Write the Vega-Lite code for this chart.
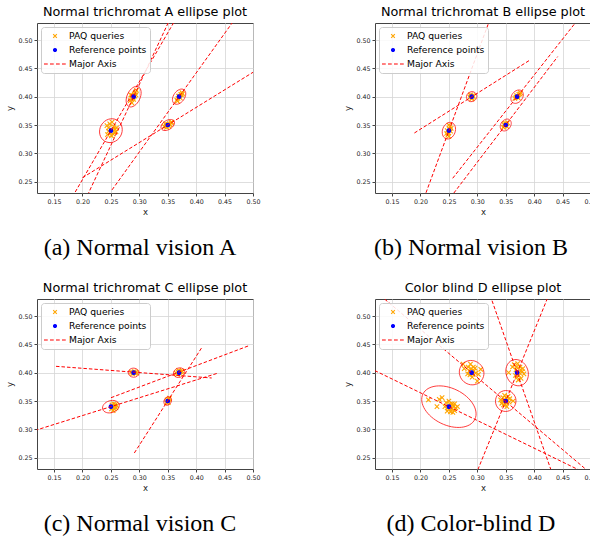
{
  "$schema": "https://vega.github.io/schema/vega-lite/v6.json",
  "background": "white",
  "padding": {"left": 5, "top": 5, "right": 5, "bottom": 5},
  "config": {
    "font": "DejaVu Sans",
    "view": {"stroke": "#444", "strokeWidth": 1},
    "axis": {"labelFont": "DejaVu Sans", "labelFontSize": 6.3, "labelColor": "#222", "titleFont": "DejaVu Sans", "titleFontSize": 8.5, "titleFontWeight": "normal", "titleColor": "#222", "tickColor": "#444", "tickSize": 3, "gridColor": "#d6d6d6", "gridWidth": 0.8, "domain": false, "labelPadding": 2, "titlePadding": 3, "labelFlush": false},
    "legend": {"orient": "top-left", "offset": 4, "padding": 3, "labelFont": "DejaVu Sans", "labelFontSize": 9.2, "labelColor": "black", "symbolSize": 100, "rowPadding": 2, "strokeColor": "#cccccc", "fillColor": "rgba(255,255,255,0.85)", "cornerRadius": 3, "symbolStrokeWidth": 1.1, "labelOffset": 8, "symbolOffset": 5},
    "title": {"font": "DejaVu Sans", "fontSize": 12.8, "fontWeight": "normal", "color": "black", "offset": 4}
  },
  "datasets": {
    "axes": [
      {"panel": "A", "id": "A1", "x": 0.1046, "y": 0.0891}, {"panel": "A", "id": "A1", "x": 0.3954, "y": 0.5909},
      {"panel": "A", "id": "A2", "x": 0.1801, "y": 0.1644}, {"panel": "A", "id": "A2", "x": 0.3999, "y": 0.6356},
      {"panel": "A", "id": "A3", "x": 0.2, "y": 0.257}, {"panel": "A", "id": "A3", "x": 0.5, "y": 0.443},
      {"panel": "A", "id": "A4", "x": 0.252, "y": 0.2355}, {"panel": "A", "id": "A4", "x": 0.488, "y": 0.5645},
      {"panel": "B", "id": "B1", "x": 0.1796, "y": 0.1485}, {"panel": "B", "id": "B1", "x": 0.3204, "y": 0.5315},
      {"panel": "B", "id": "B2", "x": 0.1893, "y": 0.3359}, {"panel": "B", "id": "B2", "x": 0.391, "y": 0.4636},
      {"panel": "B", "id": "B3", "x": 0.2567, "y": 0.256}, {"panel": "B", "id": "B3", "x": 0.4833, "y": 0.544},
      {"panel": "B", "id": "B4", "x": 0.2586, "y": 0.2298}, {"panel": "B", "id": "B4", "x": 0.4414, "y": 0.4707},
      {"panel": "C", "id": "C1", "x": 0.1534, "y": 0.4112}, {"panel": "C", "id": "C1", "x": 0.4273, "y": 0.3906},
      {"panel": "C", "id": "C2", "x": 0.061, "y": 0.2806}, {"panel": "C", "id": "C2", "x": 0.439, "y": 0.3994},
      {"panel": "C", "id": "C3", "x": 0.2502, "y": 0.3558}, {"panel": "C", "id": "C3", "x": 0.4947, "y": 0.4483},
      {"panel": "C", "id": "C4", "x": 0.2912, "y": 0.2582}, {"panel": "C", "id": "C4", "x": 0.4097, "y": 0.444},
      {"panel": "D", "id": "D1", "x": 0.05, "y": 0.4377}, {"panel": "D", "id": "D1", "x": 0.55, "y": 0.1935},
      {"panel": "D", "id": "D2", "x": 0.1, "y": 0.5612}, {"panel": "D", "id": "D2", "x": 0.52, "y": 0.2048},
      {"panel": "D", "id": "D3", "x": 0.31, "y": 0.5728}, {"panel": "D", "id": "D3", "x": 0.44, "y": 0.1984},
      {"panel": "D", "id": "D4", "x": 0.29, "y": 0.2018}, {"panel": "D", "id": "D4", "x": 0.44, "y": 0.5723}
    ],
    "ellipses": [
      {"panel": "A", "id": "A1", "x": 0.25, "y": 0.34, "a": 0.0215, "b": 0.0195, "angle": 60},
      {"panel": "A", "id": "A2", "x": 0.29, "y": 0.40, "a": 0.0193, "b": 0.0115, "angle": 65},
      {"panel": "A", "id": "A3", "x": 0.35, "y": 0.35, "a": 0.0131, "b": 0.0081, "angle": 31.8},
      {"panel": "A", "id": "A4", "x": 0.37, "y": 0.40, "a": 0.015, "b": 0.0097, "angle": 54.6},
      {"panel": "B", "id": "B1", "x": 0.25, "y": 0.34, "a": 0.0151, "b": 0.0112, "angle": 69.8},
      {"panel": "B", "id": "B2", "x": 0.29, "y": 0.40, "a": 0.0094, "b": 0.0086, "angle": 32.3},
      {"panel": "B", "id": "B3", "x": 0.37, "y": 0.40, "a": 0.013, "b": 0.0095, "angle": 52},
      {"panel": "B", "id": "B4", "x": 0.35, "y": 0.35, "a": 0.0115, "b": 0.0085, "angle": 52.7},
      {"panel": "C", "id": "C1", "x": 0.29, "y": 0.40, "a": 0.0096, "b": 0.0079, "angle": -4.3},
      {"panel": "C", "id": "C2", "x": 0.25, "y": 0.34, "a": 0.0151, "b": 0.0107, "angle": 17.1},
      {"panel": "C", "id": "C3", "x": 0.37, "y": 0.40, "a": 0.0102, "b": 0.0085, "angle": 20.7},
      {"panel": "C", "id": "C4", "x": 0.35, "y": 0.35, "a": 0.008, "b": 0.0062, "angle": 57.5},
      {"panel": "D", "id": "D1", "x": 0.25, "y": 0.34, "a": 0.0509, "b": 0.0323, "angle": -26},
      {"panel": "D", "id": "D2", "x": 0.29, "y": 0.40, "a": 0.0222, "b": 0.021, "angle": -40.3},
      {"panel": "D", "id": "D3", "x": 0.37, "y": 0.40, "a": 0.0236, "b": 0.0194, "angle": -70.8},
      {"panel": "D", "id": "D4", "x": 0.35, "y": 0.35, "a": 0.0185, "b": 0.018, "angle": 68}
    ],
    "points": [
      {"panel": "A", "kind": "PAQ queries", "x": 0.243, "y": 0.349}, {"panel": "A", "kind": "PAQ queries", "x": 0.246, "y": 0.345}, {"panel": "A", "kind": "PAQ queries", "x": 0.248, "y": 0.352}, {"panel": "A", "kind": "PAQ queries", "x": 0.252, "y": 0.355}, {"panel": "A", "kind": "PAQ queries", "x": 0.255, "y": 0.347}, {"panel": "A", "kind": "PAQ queries", "x": 0.257, "y": 0.343}, {"panel": "A", "kind": "PAQ queries", "x": 0.259, "y": 0.338}, {"panel": "A", "kind": "PAQ queries", "x": 0.254, "y": 0.334}, {"panel": "A", "kind": "PAQ queries", "x": 0.249, "y": 0.336}, {"panel": "A", "kind": "PAQ queries", "x": 0.246, "y": 0.339}, {"panel": "A", "kind": "PAQ queries", "x": 0.252, "y": 0.341}, {"panel": "A", "kind": "PAQ queries", "x": 0.256, "y": 0.337}, {"panel": "A", "kind": "PAQ queries", "x": 0.26, "y": 0.345}, {"panel": "A", "kind": "PAQ queries", "x": 0.244, "y": 0.333}, {"panel": "A", "kind": "PAQ queries", "x": 0.251, "y": 0.331},
      {"panel": "A", "kind": "PAQ queries", "x": 0.284, "y": 0.393}, {"panel": "A", "kind": "PAQ queries", "x": 0.286, "y": 0.397}, {"panel": "A", "kind": "PAQ queries", "x": 0.288, "y": 0.402}, {"panel": "A", "kind": "PAQ queries", "x": 0.291, "y": 0.405}, {"panel": "A", "kind": "PAQ queries", "x": 0.293, "y": 0.408}, {"panel": "A", "kind": "PAQ queries", "x": 0.295, "y": 0.411}, {"panel": "A", "kind": "PAQ queries", "x": 0.289, "y": 0.398}, {"panel": "A", "kind": "PAQ queries", "x": 0.292, "y": 0.401}, {"panel": "A", "kind": "PAQ queries", "x": 0.287, "y": 0.389}, {"panel": "A", "kind": "PAQ queries", "x": 0.285, "y": 0.403}, {"panel": "A", "kind": "PAQ queries", "x": 0.294, "y": 0.403}, {"panel": "A", "kind": "PAQ queries", "x": 0.29, "y": 0.395},
      {"panel": "A", "kind": "PAQ queries", "x": 0.344, "y": 0.347}, {"panel": "A", "kind": "PAQ queries", "x": 0.347, "y": 0.349}, {"panel": "A", "kind": "PAQ queries", "x": 0.35, "y": 0.351}, {"panel": "A", "kind": "PAQ queries", "x": 0.353, "y": 0.352}, {"panel": "A", "kind": "PAQ queries", "x": 0.356, "y": 0.354}, {"panel": "A", "kind": "PAQ queries", "x": 0.348, "y": 0.346}, {"panel": "A", "kind": "PAQ queries", "x": 0.352, "y": 0.348}, {"panel": "A", "kind": "PAQ queries", "x": 0.346, "y": 0.352}, {"panel": "A", "kind": "PAQ queries", "x": 0.354, "y": 0.35}, {"panel": "A", "kind": "PAQ queries", "x": 0.357, "y": 0.355},
      {"panel": "A", "kind": "PAQ queries", "x": 0.366, "y": 0.394}, {"panel": "A", "kind": "PAQ queries", "x": 0.368, "y": 0.397}, {"panel": "A", "kind": "PAQ queries", "x": 0.371, "y": 0.401}, {"panel": "A", "kind": "PAQ queries", "x": 0.373, "y": 0.404}, {"panel": "A", "kind": "PAQ queries", "x": 0.375, "y": 0.407}, {"panel": "A", "kind": "PAQ queries", "x": 0.369, "y": 0.401}, {"panel": "A", "kind": "PAQ queries", "x": 0.372, "y": 0.398}, {"panel": "A", "kind": "PAQ queries", "x": 0.374, "y": 0.403}, {"panel": "A", "kind": "PAQ queries", "x": 0.367, "y": 0.392}, {"panel": "A", "kind": "PAQ queries", "x": 0.376, "y": 0.405},
      {"panel": "A", "kind": "Reference points", "x": 0.25, "y": 0.34}, {"panel": "A", "kind": "Reference points", "x": 0.29, "y": 0.40}, {"panel": "A", "kind": "Reference points", "x": 0.35, "y": 0.35}, {"panel": "A", "kind": "Reference points", "x": 0.37, "y": 0.40},
      {"panel": "B", "kind": "PAQ queries", "x": 0.248, "y": 0.332}, {"panel": "B", "kind": "PAQ queries", "x": 0.249, "y": 0.336}, {"panel": "B", "kind": "PAQ queries", "x": 0.251, "y": 0.343}, {"panel": "B", "kind": "PAQ queries", "x": 0.252, "y": 0.347}, {"panel": "B", "kind": "PAQ queries", "x": 0.247, "y": 0.34}, {"panel": "B", "kind": "PAQ queries", "x": 0.253, "y": 0.339}, {"panel": "B", "kind": "PAQ queries", "x": 0.25, "y": 0.35}, {"panel": "B", "kind": "PAQ queries", "x": 0.246, "y": 0.335}, {"panel": "B", "kind": "PAQ queries", "x": 0.254, "y": 0.344}, {"panel": "B", "kind": "PAQ queries", "x": 0.25, "y": 0.33},
      {"panel": "B", "kind": "PAQ queries", "x": 0.287, "y": 0.399}, {"panel": "B", "kind": "PAQ queries", "x": 0.289, "y": 0.401}, {"panel": "B", "kind": "PAQ queries", "x": 0.292, "y": 0.402}, {"panel": "B", "kind": "PAQ queries", "x": 0.291, "y": 0.398}, {"panel": "B", "kind": "PAQ queries", "x": 0.288, "y": 0.403}, {"panel": "B", "kind": "PAQ queries", "x": 0.293, "y": 0.4}, {"panel": "B", "kind": "PAQ queries", "x": 0.29, "y": 0.396},
      {"panel": "B", "kind": "PAQ queries", "x": 0.366, "y": 0.397}, {"panel": "B", "kind": "PAQ queries", "x": 0.368, "y": 0.399}, {"panel": "B", "kind": "PAQ queries", "x": 0.371, "y": 0.401}, {"panel": "B", "kind": "PAQ queries", "x": 0.373, "y": 0.404}, {"panel": "B", "kind": "PAQ queries", "x": 0.375, "y": 0.405}, {"panel": "B", "kind": "PAQ queries", "x": 0.369, "y": 0.402}, {"panel": "B", "kind": "PAQ queries", "x": 0.372, "y": 0.398}, {"panel": "B", "kind": "PAQ queries", "x": 0.376, "y": 0.407},
      {"panel": "B", "kind": "PAQ queries", "x": 0.346, "y": 0.346}, {"panel": "B", "kind": "PAQ queries", "x": 0.348, "y": 0.349}, {"panel": "B", "kind": "PAQ queries", "x": 0.351, "y": 0.352}, {"panel": "B", "kind": "PAQ queries", "x": 0.353, "y": 0.354}, {"panel": "B", "kind": "PAQ queries", "x": 0.349, "y": 0.353}, {"panel": "B", "kind": "PAQ queries", "x": 0.352, "y": 0.347}, {"panel": "B", "kind": "PAQ queries", "x": 0.347, "y": 0.351},
      {"panel": "B", "kind": "Reference points", "x": 0.25, "y": 0.34}, {"panel": "B", "kind": "Reference points", "x": 0.29, "y": 0.40}, {"panel": "B", "kind": "Reference points", "x": 0.35, "y": 0.35}, {"panel": "B", "kind": "Reference points", "x": 0.37, "y": 0.40},
      {"panel": "C", "kind": "PAQ queries", "x": 0.286, "y": 0.401}, {"panel": "C", "kind": "PAQ queries", "x": 0.289, "y": 0.4}, {"panel": "C", "kind": "PAQ queries", "x": 0.292, "y": 0.399}, {"panel": "C", "kind": "PAQ queries", "x": 0.294, "y": 0.401}, {"panel": "C", "kind": "PAQ queries", "x": 0.288, "y": 0.398}, {"panel": "C", "kind": "PAQ queries", "x": 0.291, "y": 0.402}, {"panel": "C", "kind": "PAQ queries", "x": 0.295, "y": 0.399},
      {"panel": "C", "kind": "PAQ queries", "x": 0.252, "y": 0.343}, {"panel": "C", "kind": "PAQ queries", "x": 0.255, "y": 0.345}, {"panel": "C", "kind": "PAQ queries", "x": 0.257, "y": 0.341}, {"panel": "C", "kind": "PAQ queries", "x": 0.259, "y": 0.338}, {"panel": "C", "kind": "PAQ queries", "x": 0.256, "y": 0.336}, {"panel": "C", "kind": "PAQ queries", "x": 0.253, "y": 0.339}, {"panel": "C", "kind": "PAQ queries", "x": 0.258, "y": 0.344}, {"panel": "C", "kind": "PAQ queries", "x": 0.254, "y": 0.333}, {"panel": "C", "kind": "PAQ queries", "x": 0.26, "y": 0.342}, {"panel": "C", "kind": "PAQ queries", "x": 0.251, "y": 0.336},
      {"panel": "C", "kind": "PAQ queries", "x": 0.365, "y": 0.399}, {"panel": "C", "kind": "PAQ queries", "x": 0.368, "y": 0.401}, {"panel": "C", "kind": "PAQ queries", "x": 0.371, "y": 0.402}, {"panel": "C", "kind": "PAQ queries", "x": 0.374, "y": 0.401}, {"panel": "C", "kind": "PAQ queries", "x": 0.367, "y": 0.397}, {"panel": "C", "kind": "PAQ queries", "x": 0.372, "y": 0.398}, {"panel": "C", "kind": "PAQ queries", "x": 0.375, "y": 0.403}, {"panel": "C", "kind": "PAQ queries", "x": 0.369, "y": 0.404},
      {"panel": "C", "kind": "PAQ queries", "x": 0.348, "y": 0.347}, {"panel": "C", "kind": "PAQ queries", "x": 0.35, "y": 0.35}, {"panel": "C", "kind": "PAQ queries", "x": 0.352, "y": 0.353}, {"panel": "C", "kind": "PAQ queries", "x": 0.349, "y": 0.352}, {"panel": "C", "kind": "PAQ queries", "x": 0.351, "y": 0.347}, {"panel": "C", "kind": "PAQ queries", "x": 0.353, "y": 0.355},
      {"panel": "C", "kind": "Reference points", "x": 0.25, "y": 0.34}, {"panel": "C", "kind": "Reference points", "x": 0.29, "y": 0.40}, {"panel": "C", "kind": "Reference points", "x": 0.35, "y": 0.35}, {"panel": "C", "kind": "Reference points", "x": 0.37, "y": 0.40},
      {"panel": "D", "kind": "PAQ queries", "x": 0.214, "y": 0.352}, {"panel": "D", "kind": "PAQ queries", "x": 0.229, "y": 0.34}, {"panel": "D", "kind": "PAQ queries", "x": 0.233, "y": 0.353}, {"panel": "D", "kind": "PAQ queries", "x": 0.238, "y": 0.356}, {"panel": "D", "kind": "PAQ queries", "x": 0.245, "y": 0.347}, {"panel": "D", "kind": "PAQ queries", "x": 0.248, "y": 0.338}, {"panel": "D", "kind": "PAQ queries", "x": 0.252, "y": 0.344}, {"panel": "D", "kind": "PAQ queries", "x": 0.255, "y": 0.336}, {"panel": "D", "kind": "PAQ queries", "x": 0.258, "y": 0.341}, {"panel": "D", "kind": "PAQ queries", "x": 0.26, "y": 0.333}, {"panel": "D", "kind": "PAQ queries", "x": 0.262, "y": 0.338}, {"panel": "D", "kind": "PAQ queries", "x": 0.265, "y": 0.34}, {"panel": "D", "kind": "PAQ queries", "x": 0.253, "y": 0.331}, {"panel": "D", "kind": "PAQ queries", "x": 0.247, "y": 0.332}, {"panel": "D", "kind": "PAQ queries", "x": 0.256, "y": 0.345}, {"panel": "D", "kind": "PAQ queries", "x": 0.25, "y": 0.35}, {"panel": "D", "kind": "PAQ queries", "x": 0.243, "y": 0.34}, {"panel": "D", "kind": "PAQ queries", "x": 0.26, "y": 0.345}, {"panel": "D", "kind": "PAQ queries", "x": 0.257, "y": 0.33}, {"panel": "D", "kind": "PAQ queries", "x": 0.251, "y": 0.337},
      {"panel": "D", "kind": "PAQ queries", "x": 0.275, "y": 0.415}, {"panel": "D", "kind": "PAQ queries", "x": 0.277, "y": 0.407}, {"panel": "D", "kind": "PAQ queries", "x": 0.283, "y": 0.398}, {"panel": "D", "kind": "PAQ queries", "x": 0.288, "y": 0.415}, {"panel": "D", "kind": "PAQ queries", "x": 0.289, "y": 0.407}, {"panel": "D", "kind": "PAQ queries", "x": 0.292, "y": 0.397}, {"panel": "D", "kind": "PAQ queries", "x": 0.294, "y": 0.403}, {"panel": "D", "kind": "PAQ queries", "x": 0.296, "y": 0.408}, {"panel": "D", "kind": "PAQ queries", "x": 0.3, "y": 0.385}, {"panel": "D", "kind": "PAQ queries", "x": 0.302, "y": 0.397}, {"panel": "D", "kind": "PAQ queries", "x": 0.306, "y": 0.406}, {"panel": "D", "kind": "PAQ queries", "x": 0.286, "y": 0.403}, {"panel": "D", "kind": "PAQ queries", "x": 0.291, "y": 0.392}, {"panel": "D", "kind": "PAQ queries", "x": 0.284, "y": 0.41}, {"panel": "D", "kind": "PAQ queries", "x": 0.297, "y": 0.399}, {"panel": "D", "kind": "PAQ queries", "x": 0.287, "y": 0.396}, {"panel": "D", "kind": "PAQ queries", "x": 0.293, "y": 0.41},
      {"panel": "D", "kind": "PAQ queries", "x": 0.341, "y": 0.352}, {"panel": "D", "kind": "PAQ queries", "x": 0.343, "y": 0.346}, {"panel": "D", "kind": "PAQ queries", "x": 0.345, "y": 0.356}, {"panel": "D", "kind": "PAQ queries", "x": 0.347, "y": 0.349}, {"panel": "D", "kind": "PAQ queries", "x": 0.349, "y": 0.344}, {"panel": "D", "kind": "PAQ queries", "x": 0.351, "y": 0.355}, {"panel": "D", "kind": "PAQ queries", "x": 0.352, "y": 0.34}, {"panel": "D", "kind": "PAQ queries", "x": 0.354, "y": 0.358}, {"panel": "D", "kind": "PAQ queries", "x": 0.356, "y": 0.348}, {"panel": "D", "kind": "PAQ queries", "x": 0.363, "y": 0.35}, {"panel": "D", "kind": "PAQ queries", "x": 0.348, "y": 0.36}, {"panel": "D", "kind": "PAQ queries", "x": 0.346, "y": 0.343}, {"panel": "D", "kind": "PAQ queries", "x": 0.353, "y": 0.352}, {"panel": "D", "kind": "PAQ queries", "x": 0.357, "y": 0.354}, {"panel": "D", "kind": "PAQ queries", "x": 0.344, "y": 0.35}, {"panel": "D", "kind": "PAQ queries", "x": 0.35, "y": 0.347},
      {"panel": "D", "kind": "PAQ queries", "x": 0.355, "y": 0.4}, {"panel": "D", "kind": "PAQ queries", "x": 0.362, "y": 0.41}, {"panel": "D", "kind": "PAQ queries", "x": 0.365, "y": 0.414}, {"panel": "D", "kind": "PAQ queries", "x": 0.368, "y": 0.405}, {"panel": "D", "kind": "PAQ queries", "x": 0.371, "y": 0.416}, {"panel": "D", "kind": "PAQ queries", "x": 0.373, "y": 0.395}, {"panel": "D", "kind": "PAQ queries", "x": 0.375, "y": 0.41}, {"panel": "D", "kind": "PAQ queries", "x": 0.377, "y": 0.39}, {"panel": "D", "kind": "PAQ queries", "x": 0.379, "y": 0.402}, {"panel": "D", "kind": "PAQ queries", "x": 0.382, "y": 0.398}, {"panel": "D", "kind": "PAQ queries", "x": 0.372, "y": 0.387}, {"panel": "D", "kind": "PAQ queries", "x": 0.367, "y": 0.395}, {"panel": "D", "kind": "PAQ queries", "x": 0.376, "y": 0.405}, {"panel": "D", "kind": "PAQ queries", "x": 0.369, "y": 0.41}, {"panel": "D", "kind": "PAQ queries", "x": 0.38, "y": 0.407}, {"panel": "D", "kind": "PAQ queries", "x": 0.374, "y": 0.4}, {"panel": "D", "kind": "PAQ queries", "x": 0.37, "y": 0.392},
      {"panel": "D", "kind": "Reference points", "x": 0.25, "y": 0.34}, {"panel": "D", "kind": "Reference points", "x": 0.29, "y": 0.40}, {"panel": "D", "kind": "Reference points", "x": 0.35, "y": 0.35}, {"panel": "D", "kind": "Reference points", "x": 0.37, "y": 0.40}
    ]
  },
  "resolve": {"scale": {"shape": "independent", "fill": "independent", "stroke": "independent"}},
  "spacing": 20,
  "vconcat": [
    {
      "spacing": 82,
      "resolve": {"scale": {"shape": "independent", "fill": "independent", "stroke": "independent"}},
      "hconcat": [
        {
          "title": {"text": "(a) Normal vision A", "orient": "bottom", "font": "Liberation Serif", "fontSize": 24, "fontWeight": "normal", "offset": 20, "anchor": "middle", "dx": 7},
          "resolve": {"scale": {"shape": "independent", "fill": "independent", "stroke": "independent"}},
          "vconcat": [
            {
              "title": {"text": "Normal trichromat A ellipse plot", "frame": "group", "anchor": "middle"},
              "width": 216, "height": 170,
              "resolve": {"scale": {"shape": "independent", "fill": "independent", "stroke": "independent"}},
              "encoding": {
                "x": {"field": "x", "type": "quantitative", "scale": {"domain": [0.12, 0.5], "nice": false, "zero": false}, "axis": {"values": [0.15, 0.2, 0.25, 0.3, 0.35, 0.4, 0.45, 0.5], "format": ".2f", "title": "x"}},
                "y": {"field": "y", "type": "quantitative", "scale": {"domain": [0.23, 0.53], "nice": false, "zero": false}, "axis": {"values": [0.25, 0.3, 0.35, 0.4, 0.45, 0.5], "format": ".2f", "title": "y"}}
              },
              "layer": [
                {
                  "data": {"name": "points"},
                  "transform": [{"filter": "datum.panel === 'A'"}],
                  "mark": {"type": "point", "filled": true, "strokeWidth": 1.1, "opacity": 1, "size": 144},
                  "encoding": {
                    "shape": {"field": "kind", "type": "nominal", "title": null, "scale": {"domain": ["PAQ queries", "Reference points", "Major Axis"], "range": ["M-0.37,-0.37L0.37,0.37M-0.37,0.37L0.37,-0.37", "M-0.3,0C-0.3,-0.1657 -0.1657,-0.3 0,-0.3C0.1657,-0.3 0.3,-0.1657 0.3,0C0.3,0.1657 0.1657,0.3 0,0.3C-0.1657,0.3 -0.3,0.1657 -0.3,0Z", "M-2.2,0L-1.45,0M-1,0L-0.25,0M0.2,0L0.95,0M1.4,0L2.15,0"]},
                      "legend": {"encode": {"symbols": {"fill": {"value": {"expr": "datum.value === 'PAQ queries' ? '#ffa500' : datum.value === 'Reference points' ? '#0000ff' : '#ff0000'"}}, "stroke": {"value": {"expr": "datum.value === 'PAQ queries' ? '#ffa500' : datum.value === 'Reference points' ? '#0000ff' : '#ff0000'"}}}}}},
                    "fill": {"field": "kind", "type": "nominal", "legend": null, "scale": {"domain": ["PAQ queries", "Reference points", "Major Axis"], "range": ["#ffa500", "#0000ff", "#ff0000"]}},
                    "stroke": {"field": "kind", "type": "nominal", "legend": null, "scale": {"domain": ["PAQ queries", "Reference points", "Major Axis"], "range": ["#ffa500", "#0000ff", "#ff0000"]}}
                  }
                },
                {
                  "data": {"name": "ellipses"},
                  "transform": [{"filter": "datum.panel === 'A'"}],
                  "mark": {"type": "point", "filled": false, "color": "#ff0000", "strokeWidth": 0.8, "opacity": 0.85, "clip": true},
                  "encoding": {
                    "shape": {"field": "id", "type": "nominal", "legend": null, "scale": {"domain": ["A1", "A2", "A3", "A4"], "range": [
                      "M1,0C1,0.501 0.5523,0.907 0,0.907C-0.5523,0.907 -1,0.501 -1,0C-1,-0.501 -0.5523,-0.907 0,-0.907C0.5523,-0.907 1,-0.501 1,0Z",
                      "M1,0C1,0.329 0.5523,0.596 0,0.596C-0.5523,0.596 -1,0.329 -1,0C-1,-0.329 -0.5523,-0.596 0,-0.596C0.5523,-0.596 1,-0.329 1,0Z",
                      "M1,0C1,0.341 0.5523,0.618 0,0.618C-0.5523,0.618 -1,0.341 -1,0C-1,-0.341 -0.5523,-0.618 0,-0.618C0.5523,-0.618 1,-0.341 1,0Z",
                      "M1,0C1,0.357 0.5523,0.647 0,0.647C-0.5523,0.647 -1,0.357 -1,0C-1,-0.357 -0.5523,-0.647 0,-0.647C0.5523,-0.647 1,-0.357 1,0Z"]}},
                    "size": {"field": "a", "type": "quantitative", "legend": null, "scale": {"type": "pow", "exponent": 2, "domain": [0, 0.05], "range": [0, 3221], "nice": false, "zero": true}},
                    "angle": {"field": "angle", "type": "quantitative", "legend": null, "scale": {"domain": [-90, 90], "range": [90, -90], "nice": false, "zero": false}}
                  }
                },
                {
                  "data": {"name": "axes"},
                  "transform": [{"filter": "datum.panel === 'A'"}],
                  "mark": {"type": "line", "color": "#ff0000", "strokeDash": [3.5, 2], "strokeWidth": 1, "clip": true},
                  "encoding": {"detail": {"field": "id", "type": "nominal"}}
                }
              ]
            }
          ]
        },
        {
          "title": {"text": "(b) Normal vision B", "orient": "bottom", "font": "Liberation Serif", "fontSize": 24, "fontWeight": "normal", "offset": 20, "anchor": "middle"},
          "resolve": {"scale": {"shape": "independent", "fill": "independent", "stroke": "independent"}},
          "vconcat": [
            {
              "title": {"text": "Normal trichromat B ellipse plot", "frame": "group", "anchor": "middle"},
              "width": 216, "height": 170,
              "resolve": {"scale": {"shape": "independent", "fill": "independent", "stroke": "independent"}},
              "encoding": {
                "x": {"field": "x", "type": "quantitative", "scale": {"domain": [0.12, 0.5], "nice": false, "zero": false}, "axis": {"values": [0.15, 0.2, 0.25, 0.3, 0.35, 0.4, 0.45, 0.5], "format": ".2f", "title": "x"}},
                "y": {"field": "y", "type": "quantitative", "scale": {"domain": [0.23, 0.53], "nice": false, "zero": false}, "axis": {"values": [0.25, 0.3, 0.35, 0.4, 0.45, 0.5], "format": ".2f", "title": "y"}}
              },
              "layer": [
                {
                  "data": {"name": "points"},
                  "transform": [{"filter": "datum.panel === 'B'"}],
                  "mark": {"type": "point", "filled": true, "strokeWidth": 1.1, "opacity": 1, "size": 144},
                  "encoding": {
                    "shape": {"field": "kind", "type": "nominal", "title": null, "scale": {"domain": ["PAQ queries", "Reference points", "Major Axis"], "range": ["M-0.37,-0.37L0.37,0.37M-0.37,0.37L0.37,-0.37", "M-0.3,0C-0.3,-0.1657 -0.1657,-0.3 0,-0.3C0.1657,-0.3 0.3,-0.1657 0.3,0C0.3,0.1657 0.1657,0.3 0,0.3C-0.1657,0.3 -0.3,0.1657 -0.3,0Z", "M-2.2,0L-1.45,0M-1,0L-0.25,0M0.2,0L0.95,0M1.4,0L2.15,0"]},
                      "legend": {"encode": {"symbols": {"fill": {"value": {"expr": "datum.value === 'PAQ queries' ? '#ffa500' : datum.value === 'Reference points' ? '#0000ff' : '#ff0000'"}}, "stroke": {"value": {"expr": "datum.value === 'PAQ queries' ? '#ffa500' : datum.value === 'Reference points' ? '#0000ff' : '#ff0000'"}}}}}},
                    "fill": {"field": "kind", "type": "nominal", "legend": null, "scale": {"domain": ["PAQ queries", "Reference points", "Major Axis"], "range": ["#ffa500", "#0000ff", "#ff0000"]}},
                    "stroke": {"field": "kind", "type": "nominal", "legend": null, "scale": {"domain": ["PAQ queries", "Reference points", "Major Axis"], "range": ["#ffa500", "#0000ff", "#ff0000"]}}
                  }
                },
                {
                  "data": {"name": "ellipses"},
                  "transform": [{"filter": "datum.panel === 'B'"}],
                  "mark": {"type": "point", "filled": false, "color": "#ff0000", "strokeWidth": 0.8, "opacity": 0.85, "clip": true},
                  "encoding": {
                    "shape": {"field": "id", "type": "nominal", "legend": null, "scale": {"domain": ["B1", "B2", "B3", "B4"], "range": [
                      "M1,0C1,0.41 0.5523,0.742 0,0.742C-0.5523,0.742 -1,0.41 -1,0C-1,-0.41 -0.5523,-0.742 0,-0.742C0.5523,-0.742 1,-0.41 1,0Z",
                      "M1,0C1,0.505 0.5523,0.915 0,0.915C-0.5523,0.915 -1,0.505 -1,0C-1,-0.505 -0.5523,-0.915 0,-0.915C0.5523,-0.915 1,-0.505 1,0Z",
                      "M1,0C1,0.404 0.5523,0.731 0,0.731C-0.5523,0.731 -1,0.404 -1,0C-1,-0.404 -0.5523,-0.731 0,-0.731C0.5523,-0.731 1,-0.404 1,0Z",
                      "M1,0C1,0.408 0.5523,0.739 0,0.739C-0.5523,0.739 -1,0.408 -1,0C-1,-0.408 -0.5523,-0.739 0,-0.739C0.5523,-0.739 1,-0.408 1,0Z"]}},
                    "size": {"field": "a", "type": "quantitative", "legend": null, "scale": {"type": "pow", "exponent": 2, "domain": [0, 0.05], "range": [0, 3221], "nice": false, "zero": true}},
                    "angle": {"field": "angle", "type": "quantitative", "legend": null, "scale": {"domain": [-90, 90], "range": [90, -90], "nice": false, "zero": false}}
                  }
                },
                {
                  "data": {"name": "axes"},
                  "transform": [{"filter": "datum.panel === 'B'"}],
                  "mark": {"type": "line", "color": "#ff0000", "strokeDash": [3.5, 2], "strokeWidth": 1, "clip": true},
                  "encoding": {"detail": {"field": "id", "type": "nominal"}}
                }
              ]
            }
          ]
        }
      ]
    },
    {
      "spacing": 82,
      "resolve": {"scale": {"shape": "independent", "fill": "independent", "stroke": "independent"}},
      "hconcat": [
        {
          "title": {"text": "(c) Normal vision C", "orient": "bottom", "font": "Liberation Serif", "fontSize": 24, "fontWeight": "normal", "offset": 20, "anchor": "middle", "dx": 7},
          "resolve": {"scale": {"shape": "independent", "fill": "independent", "stroke": "independent"}},
          "vconcat": [
            {
              "title": {"text": "Normal trichromat C ellipse plot", "frame": "group", "anchor": "middle"},
              "width": 216, "height": 170,
              "resolve": {"scale": {"shape": "independent", "fill": "independent", "stroke": "independent"}},
              "encoding": {
                "x": {"field": "x", "type": "quantitative", "scale": {"domain": [0.12, 0.5], "nice": false, "zero": false}, "axis": {"values": [0.15, 0.2, 0.25, 0.3, 0.35, 0.4, 0.45, 0.5], "format": ".2f", "title": "x"}},
                "y": {"field": "y", "type": "quantitative", "scale": {"domain": [0.23, 0.53], "nice": false, "zero": false}, "axis": {"values": [0.25, 0.3, 0.35, 0.4, 0.45, 0.5], "format": ".2f", "title": "y"}}
              },
              "layer": [
                {
                  "data": {"name": "points"},
                  "transform": [{"filter": "datum.panel === 'C'"}],
                  "mark": {"type": "point", "filled": true, "strokeWidth": 1.1, "opacity": 1, "size": 144},
                  "encoding": {
                    "shape": {"field": "kind", "type": "nominal", "title": null, "scale": {"domain": ["PAQ queries", "Reference points", "Major Axis"], "range": ["M-0.37,-0.37L0.37,0.37M-0.37,0.37L0.37,-0.37", "M-0.3,0C-0.3,-0.1657 -0.1657,-0.3 0,-0.3C0.1657,-0.3 0.3,-0.1657 0.3,0C0.3,0.1657 0.1657,0.3 0,0.3C-0.1657,0.3 -0.3,0.1657 -0.3,0Z", "M-2.2,0L-1.45,0M-1,0L-0.25,0M0.2,0L0.95,0M1.4,0L2.15,0"]},
                      "legend": {"encode": {"symbols": {"fill": {"value": {"expr": "datum.value === 'PAQ queries' ? '#ffa500' : datum.value === 'Reference points' ? '#0000ff' : '#ff0000'"}}, "stroke": {"value": {"expr": "datum.value === 'PAQ queries' ? '#ffa500' : datum.value === 'Reference points' ? '#0000ff' : '#ff0000'"}}}}}},
                    "fill": {"field": "kind", "type": "nominal", "legend": null, "scale": {"domain": ["PAQ queries", "Reference points", "Major Axis"], "range": ["#ffa500", "#0000ff", "#ff0000"]}},
                    "stroke": {"field": "kind", "type": "nominal", "legend": null, "scale": {"domain": ["PAQ queries", "Reference points", "Major Axis"], "range": ["#ffa500", "#0000ff", "#ff0000"]}}
                  }
                },
                {
                  "data": {"name": "ellipses"},
                  "transform": [{"filter": "datum.panel === 'C'"}],
                  "mark": {"type": "point", "filled": false, "color": "#ff0000", "strokeWidth": 0.8, "opacity": 0.85, "clip": true},
                  "encoding": {
                    "shape": {"field": "id", "type": "nominal", "legend": null, "scale": {"domain": ["C1", "C2", "C3", "C4"], "range": [
                      "M1,0C1,0.464 0.5523,0.84 0,0.84C-0.5523,0.84 -1,0.464 -1,0C-1,-0.464 -0.5523,-0.84 0,-0.84C0.5523,-0.84 1,-0.464 1,0Z",
                      "M1,0C1,0.387 0.5523,0.70 0,0.70C-0.5523,0.70 -1,0.387 -1,0C-1,-0.387 -0.5523,-0.70 0,-0.70C0.5523,-0.70 1,-0.387 1,0Z",
                      "M1,0C1,0.447 0.5523,0.81 0,0.81C-0.5523,0.81 -1,0.447 -1,0C-1,-0.447 -0.5523,-0.81 0,-0.81C0.5523,-0.81 1,-0.447 1,0Z",
                      "M1,0C1,0.434 0.5523,0.785 0,0.785C-0.5523,0.785 -1,0.434 -1,0C-1,-0.434 -0.5523,-0.785 0,-0.785C0.5523,-0.785 1,-0.434 1,0Z"]}},
                    "size": {"field": "a", "type": "quantitative", "legend": null, "scale": {"type": "pow", "exponent": 2, "domain": [0, 0.05], "range": [0, 3221], "nice": false, "zero": true}},
                    "angle": {"field": "angle", "type": "quantitative", "legend": null, "scale": {"domain": [-90, 90], "range": [90, -90], "nice": false, "zero": false}}
                  }
                },
                {
                  "data": {"name": "axes"},
                  "transform": [{"filter": "datum.panel === 'C'"}],
                  "mark": {"type": "line", "color": "#ff0000", "strokeDash": [3.5, 2], "strokeWidth": 1, "clip": true},
                  "encoding": {"detail": {"field": "id", "type": "nominal"}}
                }
              ]
            }
          ]
        },
        {
          "title": {"text": "(d) Color-blind D", "orient": "bottom", "font": "Liberation Serif", "fontSize": 24, "fontWeight": "normal", "offset": 20, "anchor": "middle"},
          "resolve": {"scale": {"shape": "independent", "fill": "independent", "stroke": "independent"}},
          "vconcat": [
            {
              "title": {"text": "Color blind D ellipse plot", "frame": "group", "anchor": "middle"},
              "width": 216, "height": 170,
              "resolve": {"scale": {"shape": "independent", "fill": "independent", "stroke": "independent"}},
              "encoding": {
                "x": {"field": "x", "type": "quantitative", "scale": {"domain": [0.12, 0.5], "nice": false, "zero": false}, "axis": {"values": [0.15, 0.2, 0.25, 0.3, 0.35, 0.4, 0.45, 0.5], "format": ".2f", "title": "x"}},
                "y": {"field": "y", "type": "quantitative", "scale": {"domain": [0.23, 0.53], "nice": false, "zero": false}, "axis": {"values": [0.25, 0.3, 0.35, 0.4, 0.45, 0.5], "format": ".2f", "title": "y"}}
              },
              "layer": [
                {
                  "data": {"name": "points"},
                  "transform": [{"filter": "datum.panel === 'D'"}],
                  "mark": {"type": "point", "filled": true, "strokeWidth": 1.1, "opacity": 1, "size": 144},
                  "encoding": {
                    "shape": {"field": "kind", "type": "nominal", "title": null, "scale": {"domain": ["PAQ queries", "Reference points", "Major Axis"], "range": ["M-0.37,-0.37L0.37,0.37M-0.37,0.37L0.37,-0.37", "M-0.3,0C-0.3,-0.1657 -0.1657,-0.3 0,-0.3C0.1657,-0.3 0.3,-0.1657 0.3,0C0.3,0.1657 0.1657,0.3 0,0.3C-0.1657,0.3 -0.3,0.1657 -0.3,0Z", "M-2.2,0L-1.45,0M-1,0L-0.25,0M0.2,0L0.95,0M1.4,0L2.15,0"]},
                      "legend": {"encode": {"symbols": {"fill": {"value": {"expr": "datum.value === 'PAQ queries' ? '#ffa500' : datum.value === 'Reference points' ? '#0000ff' : '#ff0000'"}}, "stroke": {"value": {"expr": "datum.value === 'PAQ queries' ? '#ffa500' : datum.value === 'Reference points' ? '#0000ff' : '#ff0000'"}}}}}},
                    "fill": {"field": "kind", "type": "nominal", "legend": null, "scale": {"domain": ["PAQ queries", "Reference points", "Major Axis"], "range": ["#ffa500", "#0000ff", "#ff0000"]}},
                    "stroke": {"field": "kind", "type": "nominal", "legend": null, "scale": {"domain": ["PAQ queries", "Reference points", "Major Axis"], "range": ["#ffa500", "#0000ff", "#ff0000"]}}
                  }
                },
                {
                  "data": {"name": "ellipses"},
                  "transform": [{"filter": "datum.panel === 'D'"}],
                  "mark": {"type": "point", "filled": false, "color": "#ff0000", "strokeWidth": 0.8, "opacity": 0.85, "clip": true},
                  "encoding": {
                    "shape": {"field": "id", "type": "nominal", "legend": null, "scale": {"domain": ["D1", "D2", "D3", "D4"], "range": [
                      "M1,0C1,0.351 0.5523,0.635 0,0.635C-0.5523,0.635 -1,0.351 -1,0C-1,-0.351 -0.5523,-0.635 0,-0.635C0.5523,-0.635 1,-0.351 1,0Z",
                      "M1,0C1,0.522 0.5523,0.946 0,0.946C-0.5523,0.946 -1,0.522 -1,0C-1,-0.522 -0.5523,-0.946 0,-0.946C0.5523,-0.946 1,-0.522 1,0Z",
                      "M1,0C1,0.454 0.5523,0.822 0,0.822C-0.5523,0.822 -1,0.454 -1,0C-1,-0.454 -0.5523,-0.822 0,-0.822C0.5523,-0.822 1,-0.454 1,0Z",
                      "M1,0C1,0.537 0.5523,0.973 0,0.973C-0.5523,0.973 -1,0.537 -1,0C-1,-0.537 -0.5523,-0.973 0,-0.973C0.5523,-0.973 1,-0.537 1,0Z"]}},
                    "size": {"field": "a", "type": "quantitative", "legend": null, "scale": {"type": "pow", "exponent": 2, "domain": [0, 0.05], "range": [0, 3221], "nice": false, "zero": true}},
                    "angle": {"field": "angle", "type": "quantitative", "legend": null, "scale": {"domain": [-90, 90], "range": [90, -90], "nice": false, "zero": false}}
                  }
                },
                {
                  "data": {"name": "axes"},
                  "transform": [{"filter": "datum.panel === 'D'"}],
                  "mark": {"type": "line", "color": "#ff0000", "strokeDash": [3.5, 2], "strokeWidth": 1, "clip": true},
                  "encoding": {"detail": {"field": "id", "type": "nominal"}}
                }
              ]
            }
          ]
        }
      ]
    }
  ]
}
